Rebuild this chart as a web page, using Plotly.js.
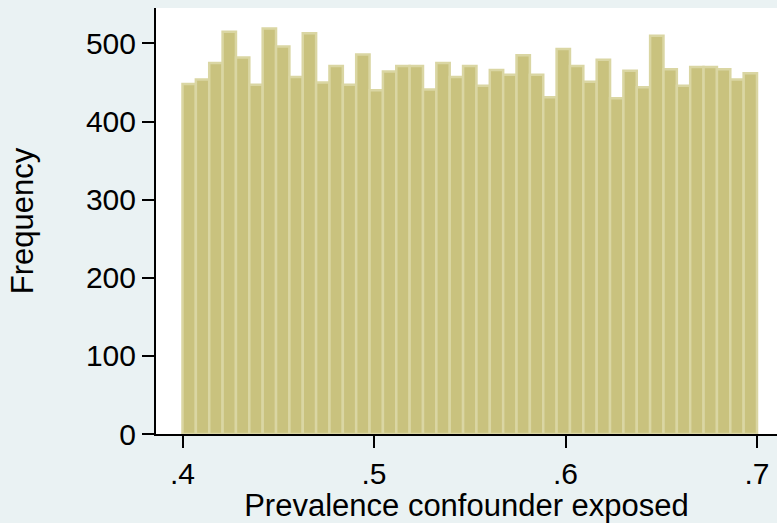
<!DOCTYPE html>
<html>
<head>
<meta charset="utf-8">
<script src="https://cdn.plot.ly/plotly-3.0.1.min.js"></script>
<style>
html,body{margin:0;padding:0;background:#EAF2F3;}
#chart{width:777px;height:523px;}
</style>
</head>
<body>
<div id="chart"></div>
<script>
// Histogram of prevalence of confounder among exposed: 43 equal bins from 0.4 to 0.7
const binMin = 0.4;
const binMax = 0.7;
const counts = [448, 454, 475, 515, 482, 447, 519, 496, 457, 513,
                450, 471, 447, 486, 440, 464, 471, 471, 441, 475,
                457, 471, 446, 466, 460, 485, 460, 431, 493, 471,
                451, 479, 430, 465, 444, 510, 467, 446, 470, 470,
                467, 454, 462];
const xTickVals = [0.4, 0.5, 0.6, 0.7];
const xTickText = ['.4', '.5', '.6', '.7'];
const yTickVals = [0, 100, 200, 300, 400, 500];
const yTickText = ['0', '100', '200', '300', '400', '500'];

const nBins = counts.length;
const binW = (binMax - binMin) / nBins;
const centers = counts.map((_, i) => binMin + binW * (i + 0.5));

const FS = 31;
const TFS = 30;
const font = {family: 'Liberation Sans, Arial, sans-serif', color: '#000000', size: FS};

const trace = {
  type: 'bar',
  x: centers,
  y: counts,
  width: binW,
  marker: {color: '#C9C27E', line: {color: '#DAD6A3', width: 2.5}},
  hoverinfo: 'x+y'
};

const layout = {
  width: 777, height: 523,
  paper_bgcolor: '#EAF2F3',
  plot_bgcolor: '#FFFFFF',
  margin: {l: 156, r: 0, t: 8, b: 89, pad: 0},
  showlegend: false,
  font: font,
  bargap: 0,
  xaxis: {
    range: [0.38616, 0.71044],
    tickvals: xTickVals, ticktext: xTickText,
    ticks: 'outside', ticklen: 12, tickwidth: 2, tickcolor: '#000',
    showline: true, linecolor: '#000', linewidth: 2,
    showgrid: false, zeroline: false,
    tickfont: {size: TFS},
    title: {text: 'Prevalence confounder exposed', font: {size: FS}, standoff: 2}
  },
  yaxis: {
    range: [0, 545.4],
    tickvals: yTickVals, ticktext: yTickText,
    ticks: 'outside', ticklen: 12, tickwidth: 2, tickcolor: '#000',
    showline: true, linecolor: '#000', linewidth: 2,
    showgrid: false, zeroline: false,
    tickfont: {size: TFS},
    title: {text: 'Frequency', font: {size: FS}, standoff: 43}
  }
};

Plotly.newPlot('chart', [trace], layout, {displayModeBar: false, staticPlot: true});
</script>
</body>
</html>
